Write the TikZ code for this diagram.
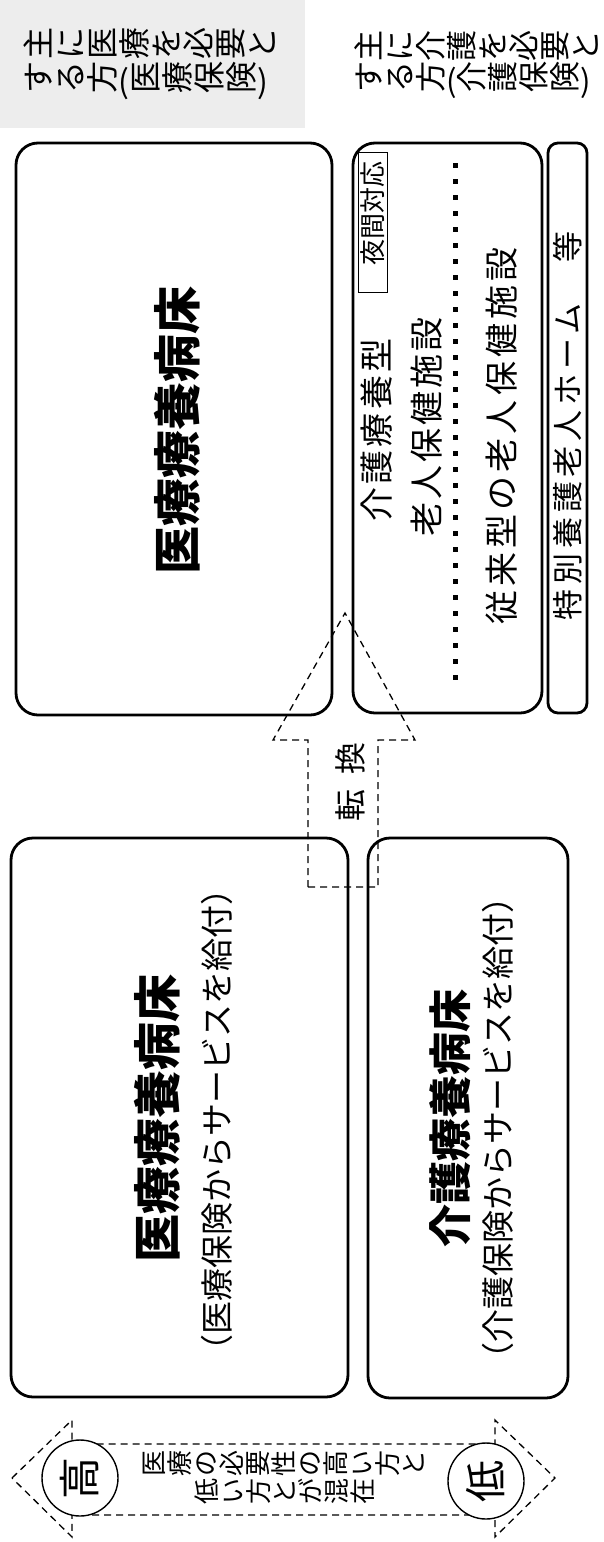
\documentclass[tikz,border=0pt]{standalone}
\usepackage{fontspec}
\usepackage{graphicx}
\newfontfamily\jp{Noto Sans CJK JP}
\newcommand\rt[1]{\rotatebox{90}{\rule[-.12em]{0pt}{1em}#1}}
\newcommand\fs[1]{\fontsize{#1}{#1}\selectfont}
\tikzset{
  box/.style={draw, line width=2.8pt, rounded corners=22pt, inner sep=0pt},
  lab/.style={font=\jp, inner sep=0pt},
  dsh/.style={draw, line width=1.3pt, dash pattern=on 7pt off 5pt},
}
\begin{document}
\begin{tikzpicture}[x=1pt,y=-1pt]
\useasboundingbox[fill=white] (0,0) rectangle (604,1542);

% header labels
\fill[gray!14] (0,0) rectangle (305,128);
\node[lab, anchor=west, font=\jp\fs{32}] (h1a) at (22,43) {\rt{主}\rt{に}\rt{医}\rt{療}\rt{を}\rt{必}\rt{要}\rt{と}};
\node[lab, anchor=west, font=\jp\fs{32}] (h1b) at (22,81) {\rt{す}\rt{る}\rt{方}(\rt{医}\rt{療}\rt{保}\rt{険})};
\node[lab, anchor=west, font=\jp\fs{31}] (h2a) at (353,46) {\rt{主}\rt{に}\rt{介}\rt{護}\rt{を}\rt{必}\rt{要}\rt{と}};
\node[lab, anchor=west, font=\jp\fs{31}] (h2b) at (353,80) {\rt{す}\rt{る}\rt{方}(\rt{介}\rt{護}\rt{保}\rt{険})};

% boxes
\node[box, minimum width=316pt, minimum height=572pt] (A) at (174,429) {};
\node[box, minimum width=189pt, minimum height=570pt] (E) at (447.5,428) {};
\node[box, rounded corners=10pt, minimum width=39pt, minimum height=570pt] (F) at (567.5,428) {};
\node[box, minimum width=337pt, minimum height=559pt] (B) at (179.5,1117.5) {};
\node[box, minimum width=200pt, minimum height=560pt] (C) at (468,1118) {};

% box texts
\node[lab, rotate=90, font=\jp\bfseries\fs{48}] (At) at (177,430) {医療療養病床};
\node[lab, rotate=90, font=\jp\bfseries\fs{48}] (Bt) at (157,1118) {医療療養病床};
\node[lab, rotate=90, font=\jp\fs{33}] (Bs) at (217,1120) {（医療保険からサービスを給付）};
\node[lab, rotate=90, font=\jp\bfseries\fs{43}] (Ct) at (450,1118) {介護療養病床};
\node[lab, rotate=90, font=\jp\fs{33}] (Cs) at (498,1128) {（介護保険からサービスを給付）};

\node[draw, line width=1pt, rotate=90, minimum width=140pt, minimum height=29pt, inner sep=0pt] (YK) at (372.5,222) {};
\node[lab, rotate=90, font=\jp\fs{26}] (yk) at (372.5,213) {夜間対応};
\node[lab, rotate=90, font=\jp\fs{34}\addfontfeature{LetterSpace=9}] (E1) at (377,430) {介護療養型};
\node[lab, rotate=90, font=\jp\fs{34}\addfontfeature{LetterSpace=9}] (E2) at (427,427) {老人保健施設};
\draw[line width=5pt, dash pattern=on 5pt off 11pt] (455,163) -- (455,682);
\node[lab, rotate=90, font=\jp\fs{34}\addfontfeature{LetterSpace=12}] (E3) at (502,436) {従来型の老人保健施設};
\node[lab, rotate=90, font=\jp\fs{31}\addfontfeature{LetterSpace=16}] (Ft) at (568,426) {特別養護老人ホーム　等};

% conversion arrow
\draw[dsh] (308,887) -- (308,740) -- (273,740) -- (345,613) -- (415,740) -- (378,740) -- (378,887) -- cycle;
\node[lab, rotate=90, font=\jp\fs{32}\addfontfeature{LetterSpace=45}] (TK) at (350,782) {転換};

% high/low arrow
\draw[dsh] (12,1478) -- (72,1420) -- (72,1444) -- (495,1444) -- (495,1420) -- (555,1478)
  -- (495,1537) -- (495,1515) -- (72,1515) -- (72,1537) -- cycle;
\node[circle, draw, line width=1.4pt, fill=white, minimum size=76pt, inner sep=0pt, rotate=90, font=\jp\fs{42}] (hi) at (80,1478) {高};
\node[circle, draw, line width=1.4pt, fill=white, minimum size=76pt, inner sep=0pt, rotate=90, font=\jp\fs{42}] (lo) at (486,1481) {低};
\node[lab, font=\jp\fs{26}] (m1) at (284,1463) {\rt{医}\rt{療}\rt{の}\rt{必}\rt{要}\rt{性}\rt{の}\rt{高}\rt{い}\rt{方}\rt{と}};
\node[lab, font=\jp\fs{26}] (m2) at (285,1491) {\rt{低}\rt{い}\rt{方}\rt{と}\rt{が}\rt{混}\rt{在}};
\end{tikzpicture}
\end{document}
